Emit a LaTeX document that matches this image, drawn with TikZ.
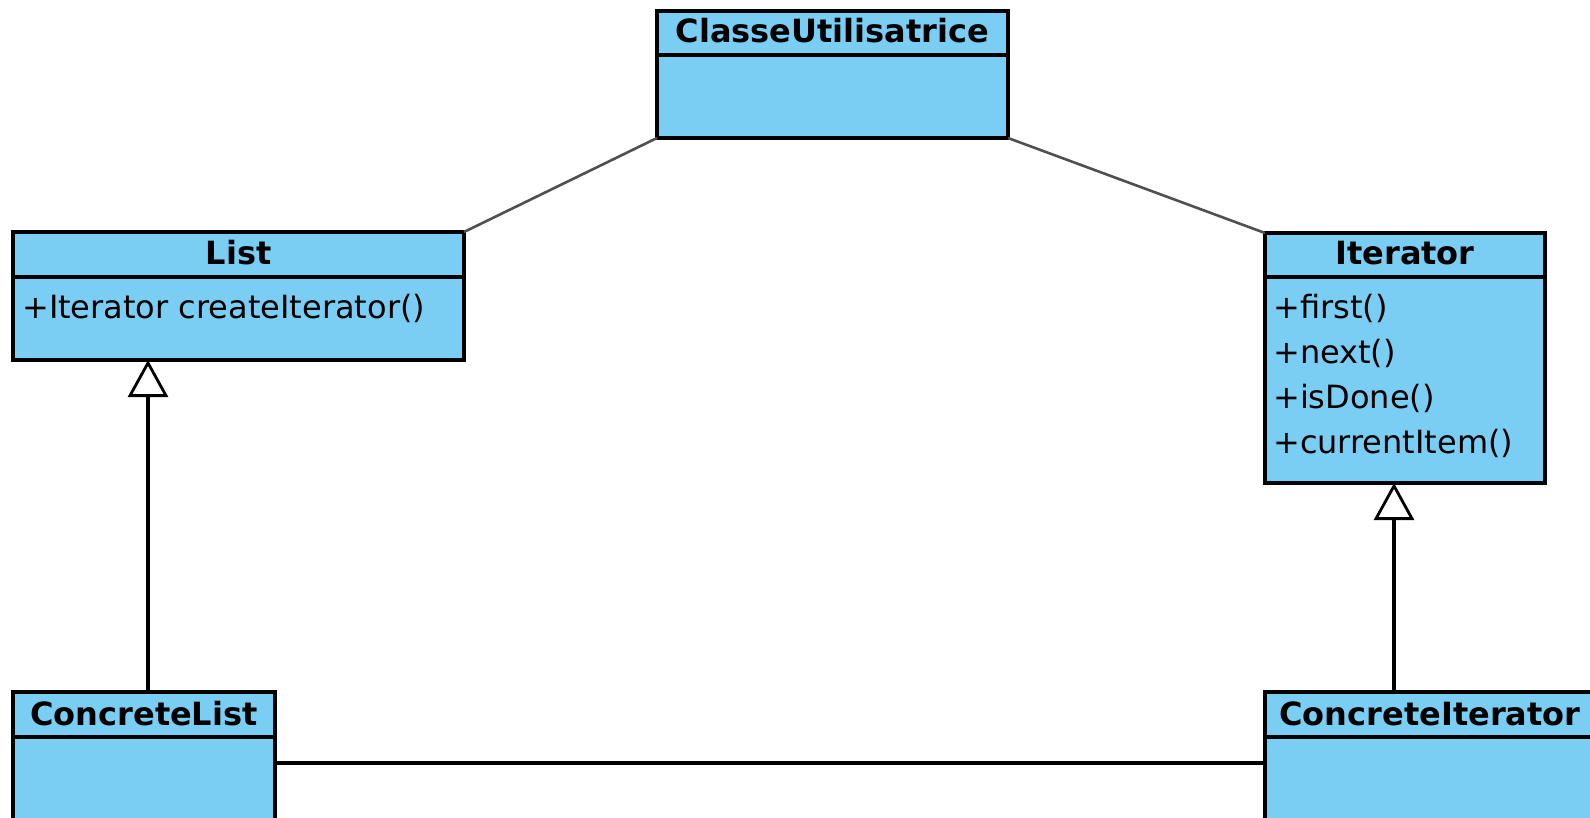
\documentclass[tikz,border=0pt]{standalone}
\usepackage{fontspec}
\setmainfont{DejaVu Sans}
\usetikzlibrary{arrows.meta}
\definecolor{classfill}{RGB}{122,206,243}
\definecolor{assocgray}{RGB}{80,80,80}
\begin{document}
\begin{tikzpicture}[x=1pt,y=-1pt,
  box/.style={draw=black, fill=classfill, line width=3.6pt, rectangle,
    outer sep=0pt, inner sep=0pt, anchor=north west},
  title/.style={font=\fontsize{32}{38}\selectfont\bfseries, anchor=base, inner sep=0pt},
  member/.style={font=\fontsize{32}{38}\selectfont, anchor=base west, inner sep=0pt},
  assoc/.style={draw=assocgray, line width=2.6pt},
  link/.style={draw=black, line width=3.2pt},
  gen/.style={draw=black, line width=3.2pt,
    -{Triangle[fill=white, length=37pt, width=40pt, line width=2.8pt]}},
]
\clip (0,0) rectangle (1590,818);

% ClasseUtilisatrice
\node[box, minimum width=351pt, minimum height=44pt] (cuH) at (657,11) {};
\node[box, minimum width=351pt, minimum height=83pt] (cuB) at (cuH.south west) {};
\node[title] (cuT) at ([yshift=-32pt]cuH.north) {ClasseUtilisatrice};

% List
\node[box, minimum width=451pt, minimum height=45pt] (listH) at (13,232) {};
\node[box, minimum width=451pt, minimum height=83pt] (listB) at (listH.south west) {};
\node[title] (listT) at ([yshift=-33pt]listH.north) {List};
\node[member] (listM1) at ([xshift=9pt,yshift=-41pt]listB.north west) {+Iterator createIterator()};

% Iterator
\node[box, minimum width=280pt, minimum height=44pt] (iterH) at (1265,233) {};
\node[box, minimum width=280pt, minimum height=206pt] (iterB) at (iterH.south west) {};
\node[title] (iterT) at ([yshift=-32pt]iterH.north) {Iterator};
\node[member] (iterM1) at ([xshift=8pt,yshift=-41pt]iterB.north west) {+first()};
\node[member] (iterM2) at ([yshift=-45pt]iterM1.base west) {+next()};
\node[member] (iterM3) at ([yshift=-45pt]iterM2.base west) {+isDone()};
\node[member] (iterM4) at ([yshift=-45pt]iterM3.base west) {+currentItem()};

% ConcreteList
\node[box, minimum width=262pt, minimum height=45pt] (clH) at (13,692) {};
\node[box, minimum width=262pt, minimum height=120pt] (clB) at (clH.south west) {};
\node[title] (clT) at ([yshift=-33pt]clH.north) {ConcreteList};

% ConcreteIterator
\node[box, minimum width=330pt, minimum height=45pt] (ciH) at (1265,692) {};
\node[box, minimum width=330pt, minimum height=120pt] (ciB) at (ciH.south west) {};
\node[title] (ciT) at ([yshift=-33pt]ciH.north) {ConcreteIterator};

% associations
\draw[assoc] (cuB.south west) -- (listH.north east);
\draw[assoc] (cuB.south east) -- (iterH.north west);
\draw[link] ([yshift=-26pt]clB.north east) -- ([yshift=-26pt]ciB.north west);

% generalizations
\draw[gen] ([xshift=135pt]clH.north west) -- ([xshift=135pt]clH.north west |- listB.south);
\draw[gen] ([xshift=129pt]ciH.north west) -- ([xshift=129pt]ciH.north west |- iterB.south);
\end{tikzpicture}
\end{document}
